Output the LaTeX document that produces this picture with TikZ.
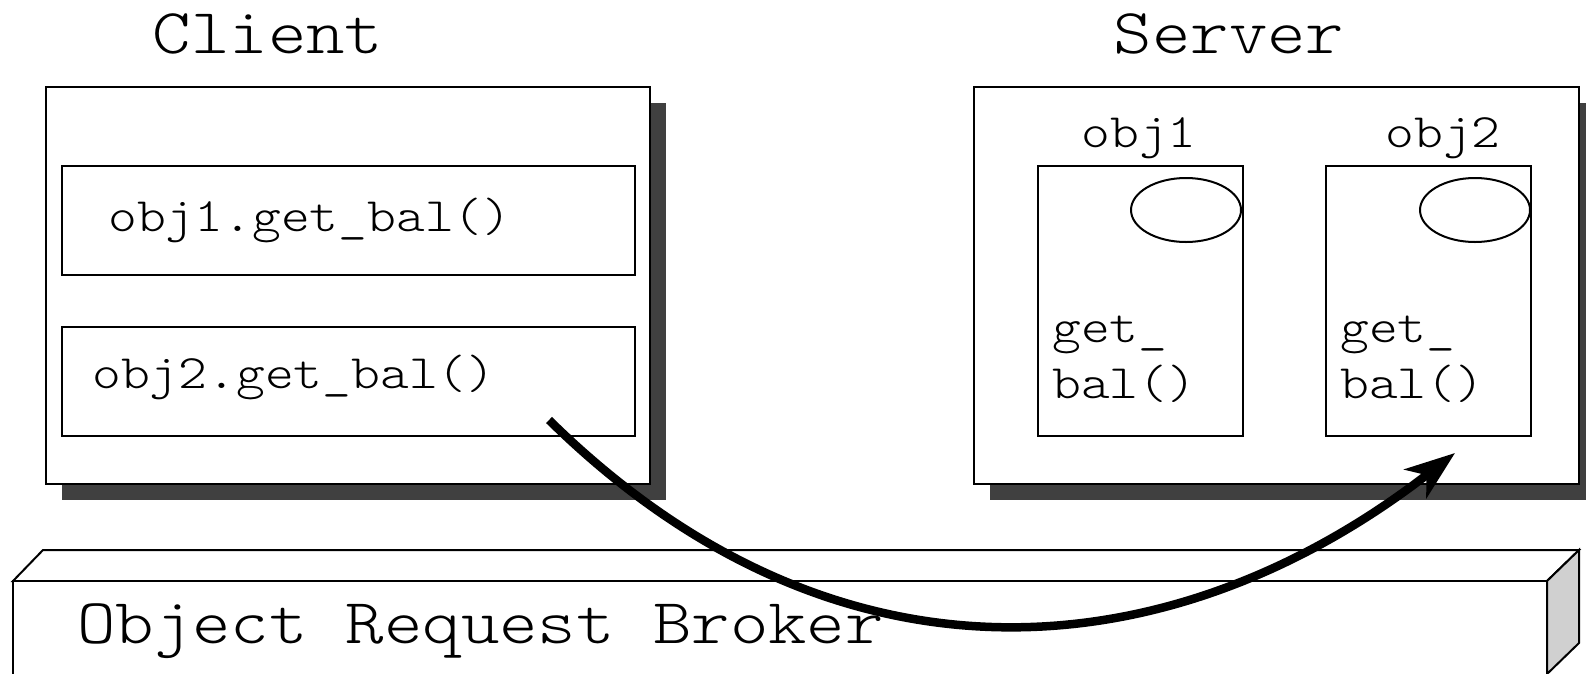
\documentclass[tikz,border=0pt]{standalone}
\usepackage{fontspec}
\setmonofont{lmmonolt10-regular}[Extension=.otf,FakeStretch=1.143]
\usetikzlibrary{shapes.geometric,arrows.meta,shadows}
\definecolor{shade}{HTML}{404040}
\definecolor{sidegray}{HTML}{D0D0D0}
\begin{document}
\begin{tikzpicture}[x=1pt,y=-1pt,
  big/.style={font=\fontsize{64}{70}\selectfont\ttfamily,inner sep=0pt},
  small/.style={font=\fontsize{48}{56}\selectfont\ttfamily,inner sep=0pt},
  frame/.style={draw=black,line width=2pt,fill=white,inner sep=0pt,anchor=north west},
  shadowed/.style={drop shadow={shadow xshift=16pt,shadow yshift=-16pt,fill=shade,opacity=1}},
  oval/.style={ellipse,draw=black,line width=2pt,fill=white,inner sep=0pt,minimum width=110pt,minimum height=64pt},
  side/.style={draw=black,line width=2pt,line join=miter},
  flow/.style={line width=8.5pt,-{Stealth[length=50pt,width=36pt,inset=14pt]}}
]
\useasboundingbox (0,0) rectangle (1586,673);
% titles
\node[big,anchor=base] (clientT) at (268,53) {Client};
\node[big,anchor=base] (serverT) at (1229,53) {Server};
% client
\node[frame,shadowed,minimum width=604pt,minimum height=397pt] (client) at (45,86) {};
\node[frame,minimum width=573pt,minimum height=109pt] (call1) at (61,165) {};
\node[frame,minimum width=573pt,minimum height=109pt] (call2) at (61,326) {};
\node[small,anchor=base west] (call1t) at (108,231) {obj1.get\_bal()};
\node[small,anchor=base west] (call2t) at (92,388) {obj2.get\_bal()};
% server
\node[frame,shadowed,minimum width=605pt,minimum height=397pt] (server) at (973,86) {};
\node[small,anchor=base] (o1t) at (1139,147) {obj1};
\node[small,anchor=base] (o2t) at (1443,147) {obj2};
\node[frame,minimum width=205pt,minimum height=270pt] (o1) at (1037,165) {};
\node[frame,minimum width=205pt,minimum height=270pt] (o2) at (1325,165) {};
\node[oval] (e1) at (1186,210) {};
\node[oval] (e2) at (1475,210) {};
\node[small,anchor=base west] (g1) at (1052,342) {get\_};
\node[small,anchor=base west] (b1) at (1052,398) {bal()};
\node[small,anchor=base west] (g2) at (1340,342) {get\_};
\node[small,anchor=base west] (b2) at (1340,398) {bal()};
% ORB bar
\draw[side,fill=white] (13,581) -- (43,550) -- (1579,550) -- (1547,581) -- cycle;
\draw[side,fill=sidegray] (1547,581) -- (1579,550) -- (1579,643) -- (1547,674) -- cycle;
\draw[side,fill=white] (13,700) -- (13,581) -- (1547,581) -- (1547,700);
\node[big,anchor=base west] (orb) at (77,643) {Object Request Broker};
% arrow
\coordinate (arrS) at (549,420);
\coordinate (arrE) at (1455,453);
\draw[flow] (arrS) .. controls (839,705) and (1175,670) .. (arrE);
\end{tikzpicture}
\end{document}
